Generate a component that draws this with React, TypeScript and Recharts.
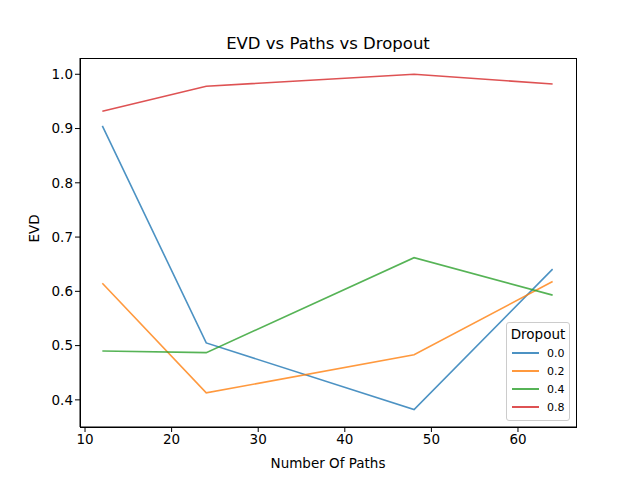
import { LineChart, Line, XAxis, YAxis, Label } from "recharts";

const paths = [12, 24, 48, 64];
const dropouts = ["0.0", "0.2", "0.4", "0.8"];
const evd00 = [0.905, 0.505, 0.382, 0.641];
const evd02 = [0.615, 0.413, 0.483, 0.618];
const evd04 = [0.49, 0.487, 0.662, 0.593];
const evd08 = [0.932, 0.978, 1.0, 0.982];
const xTicks = [10, 20, 30, 40, 50, 60];
const yTicks = [0.4, 0.5, 0.6, 0.7, 0.8, 0.9, 1.0];

const seriesValues = [evd00, evd02, evd04, evd08];
const colors = ["#1f77b4", "#ff7f0e", "#2ca02c", "#d62728"];

const data = paths.map((p, i) => {
  const row: any = { paths: p };
  dropouts.forEach((d, j) => (row[d] = seriesValues[j][i]));
  return row;
});

const font = "DejaVu Sans, sans-serif";

export default function App() {
  return (
    <div style={{ position: "absolute", left: 0, top: 0, width: 640, height: 480, fontFamily: font, background: "#fff" }}>
      <div style={{ position: "absolute", top: 34, left: 80, width: 496, textAlign: "center", fontSize: 16.5 }}>
        EVD vs Paths vs Dropout
      </div>
      <LineChart width={640} height={480} data={data} margin={{ top: 58, right: 64, left: 0, bottom: 0 }}>
        <XAxis
          dataKey="paths"
          type="number"
          domain={[9.42, 66.7]}
          ticks={xTicks}
          allowDataOverflow
          stroke="#000"
          tick={{ fill: "#000", fontSize: 13.5, fontFamily: font }}
          tickSize={5}
          height={53}
        >
          <Label value="Number Of Paths" position="insideBottom" offset={12} style={{ fill: "#000", fontSize: 13.5, fontFamily: font }} />
        </XAxis>
        <YAxis
          type="number"
          domain={[0.35, 1.03]}
          ticks={yTicks}
          allowDataOverflow
          tickFormatter={(v: number) => v.toFixed(1)}
          stroke="#000"
          tick={{ fill: "#000", fontSize: 13.5, fontFamily: font }}
          tickSize={5}
          width={80}
        >
          <Label value="EVD" angle={-90} position="insideLeft" offset={34} style={{ fill: "#000", fontSize: 13.5, fontFamily: font }} />
        </YAxis>
        {dropouts.map((d, j) => (
          <Line
            key={d}
            dataKey={d}
            type="linear"
            stroke={colors[j]}
            strokeOpacity={0.8}
            strokeWidth={1.6}
            dot={false}
            isAnimationActive={false}
          />
        ))}
      </LineChart>
      <div style={{ position: "absolute", left: 80, top: 58, width: 495, height: 368, border: "1px solid #000", pointerEvents: "none" }} />
      <div
        style={{
          position: "absolute",
          left: 506,
          top: 322,
          width: 62,
          height: 97,
          border: "1px solid #ccc",
          borderRadius: 3,
          background: "rgba(255,255,255,0.8)",
          fontSize: 11,
        }}
      >
        <div style={{ textAlign: "center", fontSize: 13.5, marginTop: 3, marginBottom: 2 }}>Dropout</div>
        {dropouts.map((d, j) => (
          <div key={d} style={{ display: "flex", alignItems: "center", height: 18, paddingLeft: 5 }}>
            <span style={{ display: "inline-block", width: 27, height: 2, background: colors[j], opacity: 0.8, marginRight: 8 }} />
            {d}
          </div>
        ))}
      </div>
    </div>
  );
}
